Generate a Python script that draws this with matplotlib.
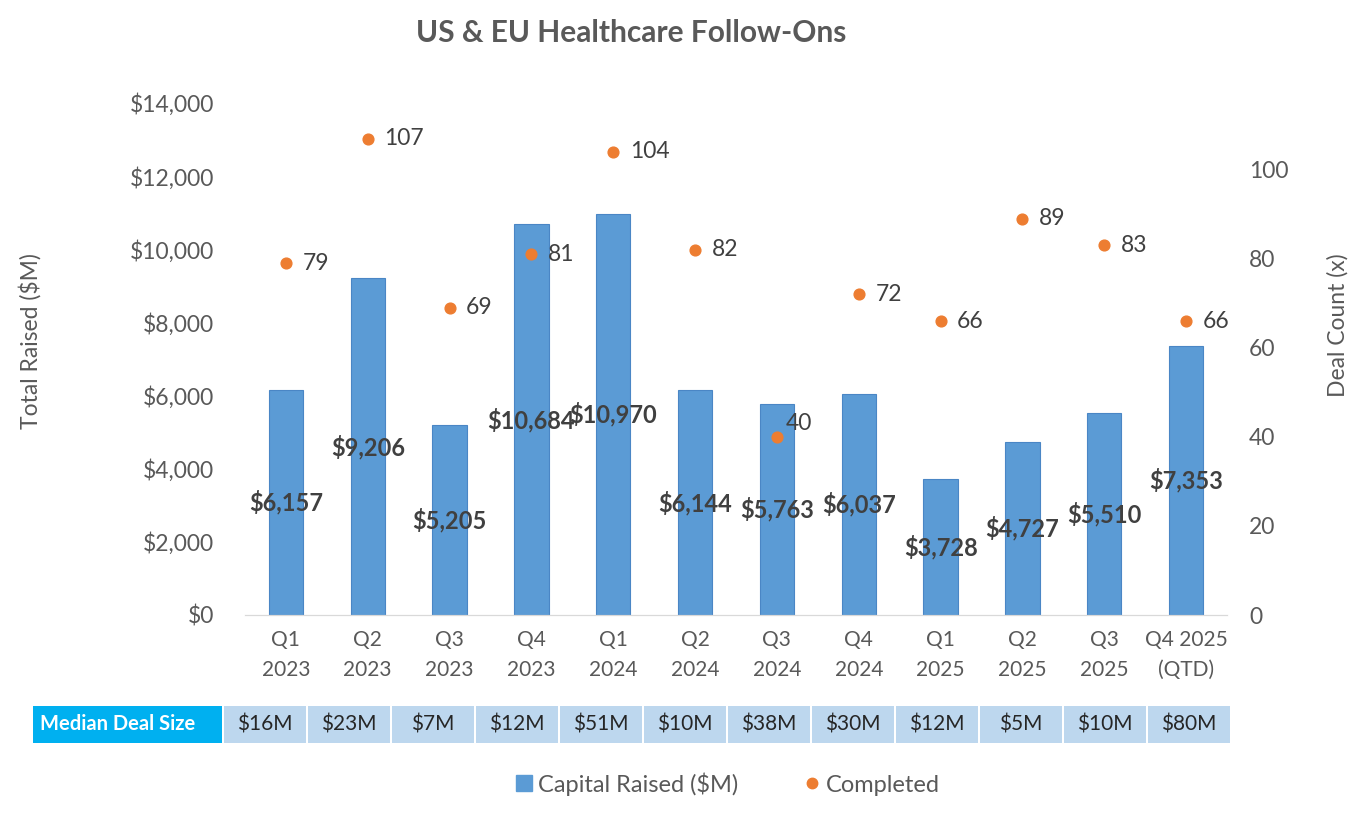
import matplotlib.pyplot as plt
from matplotlib.patches import Rectangle
from matplotlib.lines import Line2D

plt.rcParams['font.family'] = ['Lato', 'DejaVu Sans']

# data
quarters = ["Q1\n2023", "Q2\n2023", "Q3\n2023", "Q4\n2023",
            "Q1\n2024", "Q2\n2024", "Q3\n2024", "Q4\n2024",
            "Q1\n2025", "Q2\n2025", "Q3\n2025", "Q4 2025\n(QTD)"]
capital_raised = [6157, 9206, 5205, 10684, 10970, 6144, 5763, 6037, 3728, 4727, 5510, 7353]
deal_count = [79, 107, 69, 81, 104, 82, 40, 72, 66, 89, 83, 66]
median_deal = ["$16M", "$23M", "$7M", "$12M", "$51M", "$10M",
               "$38M", "$30M", "$12M", "$5M", "$10M", "$80M"]

BLUE = "#5B9BD5"
ORANGE = "#ED7D31"
GREY = "#595959"
DARK = "#404040"

W, H = 1362, 816


def fx(px):
    return px / W


def fy(py):
    return 1 - py / H


fig = plt.figure(figsize=(W / 100, H / 100), dpi=100)
ax = fig.add_axes([fx(245), fy(615), fx(1227) - fx(245), fy(103) - fy(615)])
ax2 = ax.twinx()

x = list(range(len(quarters)))
bars = ax.bar(x, capital_raised, width=0.42, color=BLUE, edgecolor="#4A86C5", linewidth=0.8, zorder=2)
ax.bar_label(bars, labels=[f"${v:,}" for v in capital_raised], label_type="center",
             fontsize=17, fontweight="bold", color=DARK)

ax.set_xlim(-0.5, len(quarters) - 0.5)
ax.set_ylim(0, 14000)
ax.set_yticks(range(0, 14001, 2000))
ax.set_yticklabels([f"${v:,}" for v in range(0, 14001, 2000)])
ax.set_xticks(x)
ax.set_xticklabels(quarters, linespacing=1.6)
ax.tick_params(axis="y", length=0, pad=22, labelsize=16.5, labelcolor=GREY)
ax.tick_params(axis="x", length=0, pad=11, labelsize=15, labelcolor=GREY)

ax2.scatter(x, deal_count, s=60, color=ORANGE, zorder=3)
for i, v in enumerate(deal_count):
    if v == 40:
        # this label sits above the dot in the original
        ax2.annotate(str(v), (i, v), xytext=(6, 10), textcoords="offset points",
                     ha="left", va="center", fontsize=16.5, color=DARK)
    else:
        ax2.annotate(str(v), (i, v), xytext=(12, 0), textcoords="offset points",
                     ha="left", va="center", fontsize=16.5, color=DARK)
ax2.set_ylim(0, 115)
ax2.set_yticks(range(0, 101, 20))
ax2.tick_params(axis="y", length=0, pad=16, labelsize=16.5, labelcolor=GREY)

for a in (ax, ax2):
    for s in ("top", "left", "right"):
        a.spines[s].set_visible(False)
    a.spines["bottom"].set_color("#D9D9D9")

fig.text(0.5 * (fx(417) + fx(846)), fy(33), "US & EU Healthcare Follow-Ons",
         ha="center", va="center", fontsize=21.5, fontweight="bold", color=GREY)
fig.text(fx(30), fy(341), "Total Raised ($M)", rotation=90, ha="center", va="center",
         fontsize=16.5, color=GREY)
fig.text(fx(1338), fy(325), "Deal Count (x)", rotation=90, ha="center", va="center",
         fontsize=16.5, color=GREY)

# median deal size table
top, bot = 706, 743
fig.patches.append(Rectangle((fx(33), fy(bot)), fx(222) - fx(33), fy(top) - fy(bot),
                             transform=fig.transFigure, facecolor="#00B0F0", edgecolor="none"))
fig.text(fx(40), fy((top + bot) / 2), "Median Deal Size", ha="left", va="center",
         fontsize=14.5, fontweight="bold", color="white")
cw = 84
for i, lab in enumerate(median_deal):
    x0 = 224 + cw * i
    fig.patches.append(Rectangle((fx(x0), fy(bot)), fx(cw - 2), fy(top) - fy(bot),
                                 transform=fig.transFigure, facecolor="#BDD7EE", edgecolor="none"))
    fig.text(fx(x0 + (cw - 2) / 2), fy((top + bot) / 2), lab, ha="center", va="center",
             fontsize=15, color="#262626")

handles = [Line2D([], [], marker="s", linestyle="none", markersize=11, color=BLUE),
           Line2D([], [], marker="o", linestyle="none", markersize=7.5, color=ORANGE)]
fig.legend(handles, ["Capital Raised ($M)", "Completed"], loc="center",
           bbox_to_anchor=(fx(726), fy(784)), ncol=2, frameon=False, fontsize=17,
           labelcolor=GREY, handletextpad=0.1, columnspacing=2.6, handlelength=1)

fig.savefig("out.png", dpi=100, facecolor="white")
